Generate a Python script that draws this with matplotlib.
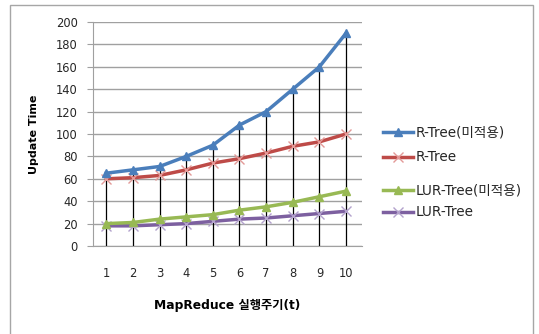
import matplotlib
matplotlib.use("Agg")
import matplotlib.pyplot as plt
from matplotlib.lines import Line2D
from matplotlib.patches import Rectangle

plt.rcParams['font.family'] = ['DejaVu Sans', 'Noto Sans CJK KR']

# data
periods = [1, 2, 3, 4, 5, 6, 7, 8, 9, 10]
rtree_none = [65, 68, 71, 80, 90, 108, 120, 140, 160, 190]
rtree = [60, 61, 63, 68, 74, 78, 83, 89, 93, 100]
lur_none = [20, 21, 24, 26, 28, 32, 35, 39, 44, 49]
lur = [18, 18, 19, 20, 22, 24, 25, 27, 29, 31]
labels = ['R-Tree(미적용)', 'R-Tree', 'LUR-Tree(미적용)', 'LUR-Tree']
yticks = [0, 20, 40, 60, 80, 100, 120, 140, 160, 180, 200]

blue = '#4a7ebb'
red = '#be4b48'
green = '#98b954'
purple = '#7d60a0'

fig = plt.figure(figsize=(5.39, 3.34), dpi=100)
fig.patches.append(Rectangle((10 / 539, -0.01), 523 / 539, 1 - 5 / 334 + 0.01,
                             transform=fig.transFigure, fill=False,
                             edgecolor='#a6a6a6', lw=1.0))

ax = fig.add_axes([93 / 539, 88 / 334, 269 / 539, 224 / 334])

# drop lines from the top series
ax.vlines(periods, 0, rtree_none, color='black', lw=0.9, zorder=2)

ax.plot(periods, rtree_none, color=blue, lw=2.5, marker='^', ms=6, zorder=4)
ax.plot(periods, rtree, color=red, lw=2.5, marker='x', ms=7, mew=1,
        mec='#e39a98', zorder=3)
ax.plot(periods, lur_none, color=green, lw=2.5, marker='^', ms=6, zorder=4)
ax.plot(periods, lur, color=purple, lw=2.5, marker='x', ms=7, mew=1,
        mec='#b3a2cc', zorder=3)

ax.set_xlim(0.5, 10.6)
ax.set_ylim(0, 200)
ax.set_yticks(yticks)
ax.set_xticks(periods)
ax.yaxis.grid(True, color='#a0a0a0', lw=1)
ax.set_axisbelow(True)
for s in ['top', 'right']:
    ax.spines[s].set_visible(False)
ax.spines['left'].set_color('#a0a0a0')
ax.spines['bottom'].set_color('#a0a0a0')
ax.tick_params(axis='y', length=4, color='#a0a0a0', labelsize=8.3, pad=7,
               labelcolor='#262626')
ax.tick_params(axis='x', length=0, labelsize=8.3, pad=15, labelcolor='#262626')

ax.set_ylabel('Update Time', fontsize=8, fontweight='bold', labelpad=12)
ax.set_xlabel('MapReduce 실행주기(t)', fontsize=8.8, fontweight='bold', labelpad=14)

# legend drawn by hand to keep Excel's uneven spacing
leg_y = [132, 157, 190, 212]
styles = [(blue, '^', blue), (red, 'x', '#e39a98'),
          (green, '^', green), (purple, 'x', '#b3a2cc')]
for (c, m, mc), lab, yy in zip(styles, labels, leg_y):
    yf = 1 - yy / 334
    fig.add_artist(Line2D([383 / 539, 413 / 539], [yf, yf], color=c, lw=2.5,
                          transform=fig.transFigure))
    fig.add_artist(Line2D([398 / 539], [yf], marker=m, ms=6 if m == '^' else 7,
                          color=c, mec=mc, mew=1, transform=fig.transFigure))
    fig.text(416 / 539, yf, lab, fontsize=9.8, va='center', ha='left',
             color='#262626')

fig.savefig('out.png', dpi=100)
